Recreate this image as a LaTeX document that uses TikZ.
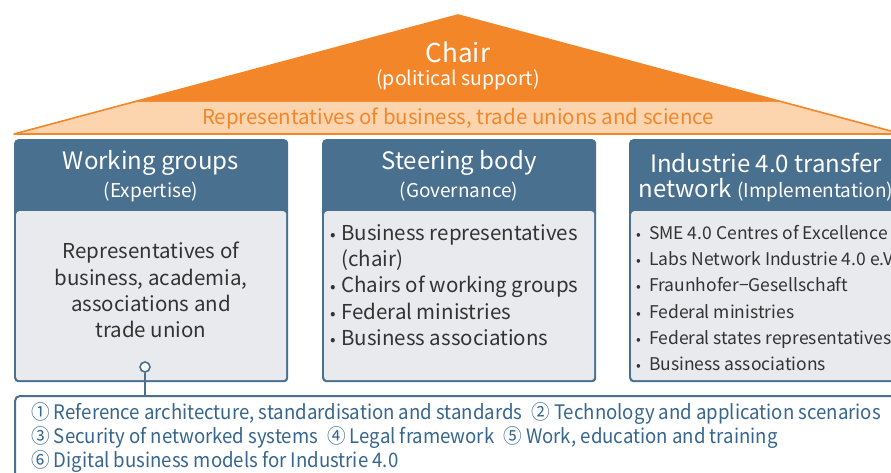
\documentclass[tikz,border=0pt]{standalone}
\usepackage{fontspec}
\setmainfont{Noto Sans CJK KR}
\newfontfamily\topicfont[FakeStretch=0.93]{Noto Sans CJK KR}
\usetikzlibrary{positioning}

\definecolor{roofdark}{HTML}{F4862A}
\definecolor{rooflight}{HTML}{FCD4AE}
\definecolor{panelblue}{HTML}{4A7090}
\definecolor{panelbg}{HTML}{E8EAEE}
\definecolor{bodytext}{HTML}{333333}
\definecolor{topicblue}{HTML}{36668F}

\newcommand{\bul}[1][11pt]{\makebox[#1][l]{\scalebox{0.8}{•}}}
\newcommand{\tgap}{\hspace{9pt}}

\tikzset{
  panel/.style={fill=panelblue, rounded corners=4pt, minimum width=274pt,
    minimum height=243pt, anchor=north west, inner sep=0pt},
  panelbody/.style={fill=panelbg, rounded corners=3pt, minimum width=270pt,
    minimum height=169pt, anchor=south, inner sep=0pt},
  headtext/.style={text=white, inner sep=0pt, font=\fontsize{24}{28}\selectfont},
  subtext/.style={text=white, inner sep=0pt, font=\fontsize{19}{22}\selectfont},
  bodylist/.style={text=bodytext, inner sep=0pt, align=left,
    font=\fontsize{20.5}{26.3}\selectfont},
  smalllist/.style={text=bodytext, inner sep=0pt, align=left,
    font=\fontsize{17.5}{26.2}\selectfont},
}

\begin{document}
\begin{tikzpicture}[x=1pt, y=-1pt]
  \useasboundingbox (0,0) rectangle (891,473);
  \clip (0,0) rectangle (891,473);
  % roof
  \fill[roofdark] (458,15) -- (783,102) -- (133,102) -- cycle;
  \fill[rooflight] (133,102) -- (783,102) -- (902,134) -- (14,134) -- cycle;
  \draw[roofdark, line width=1.6pt, line join=round] (14,134) -- (458,15) -- (902,134) -- cycle;
  \node[text=white, inner sep=0pt, font=\fontsize{26}{30}\selectfont] (chair) at (458,52) {Chair};
  \node[text=white, inner sep=0pt, font=\fontsize{19.5}{22}\selectfont] (chairsub) at (458,80) {(political support)};
  \node[text=roofdark, inner sep=0pt, font=\fontsize{20.5}{22}\selectfont] (members) at (458,119)
    {Representatives of business, trade unions and science};

  % panels
  \node[panel] (wg) at (14,139) {};
  \node[panelbody] (wgbody) at ([yshift=2pt]wg.south) {};
  \node[panel] (sb) at (322,139) {};
  \node[panelbody] (sbbody) at ([yshift=2pt]sb.south) {};
  \node[panel] (tn) at (629,139) {};
  \node[panelbody] (tnbody) at ([yshift=2pt]tn.south) {};

  \node[headtext] (wgtitle) at (151,163) {Working groups};
  \node[subtext] (wgsub) at (151,192) {(Expertise)};
  \node[headtext] (sbtitle) at (459,163) {Steering body};
  \node[subtext] (sbsub) at (459,192) {(Governance)};
  \node[headtext] (tntitle) at (766,163) {Industrie 4.0 transfer};
  \node[headtext] (tnsub) at (766,190) {network \fontsize{19}{22}\selectfont(Implementation)};

  \node[bodylist, align=center] (wgtext) at (151,290)
    {Representatives of\\business, academia,\\associations and\\trade union};
  \node[bodylist, anchor=west] (sbtext) at (330,285)
    {\bul Business representatives\\\hspace*{11pt}(chair)\\\bul Chairs of working groups\\
     \bul Federal ministries\\\bul Business associations};
  \node[smalllist, anchor=west] (tntext) at (636,298)
    {\bul[9pt] SME 4.0 Centres of Excellence\\\bul[9pt] Labs Network Industrie 4.0 e.V.\\
     \bul[9pt] Fraunhofer−Gesellschaft\\\bul[9pt] Federal ministries\\
     \bul[9pt] Federal states representatives\\\bul[9pt] Business associations};

  % topics of the working groups
  \node[draw=panelblue, fill=white, line width=2pt, rounded corners=5pt, anchor=north west,
    minimum width=900pt, minimum height=110pt, inner sep=0pt] (topics) at (14,395) {};
  \node[circle, draw=panelblue, fill=white, line width=1.6pt, inner sep=0pt,
    minimum size=10pt] (wgdot) at (145,367) {};
  \draw[panelblue, line width=2pt] (wgdot) -- (wgdot |- topics.north);
  \node[text=topicblue, inner sep=0pt, align=left, anchor=west,
    font=\topicfont\fontsize{20}{24}\selectfont] (topiclist) at (31,438)
    {① Reference architecture, standardisation and standards\tgap② Technology and application scenarios\\
     ③ Security of networked systems\tgap④ Legal framework\tgap⑤ Work, education and training\\
     ⑥ Digital business models for Industrie 4.0};
\end{tikzpicture}
\end{document}
